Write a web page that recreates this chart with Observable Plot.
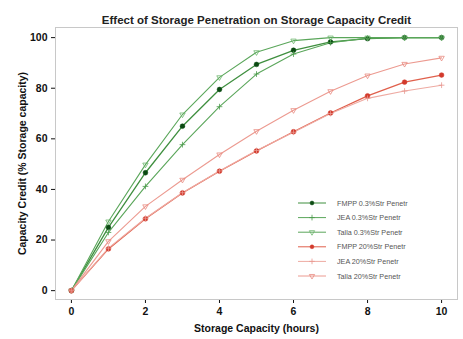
<!DOCTYPE html>
<html><head><meta charset="utf-8">
<script src="https://cdn.jsdelivr.net/npm/d3@7"></script>
<script src="https://cdn.jsdelivr.net/npm/@observablehq/plot@0.6"></script>
<style>body{margin:0;background:#fff;font-family:"Liberation Sans",Arial,sans-serif}</style>
</head><body><div id="chart"></div>
<script>
const hours = [0,1,2,3,4,5,6,7,8,9,10];
const seriesNames = ["FMPP 0.3%Str Penetr","JEA 0.3%Str Penetr","Talla 0.3%Str Penetr","FMPP 20%Str Penetr","JEA 20%Str Penetr","Talla 20%Str Penetr"];
const fmpp03 = [0,25,46.6,65,79.5,89.4,95,98.3,99.6,100,100];
const jea03 = [0,23,41.2,57.7,72.7,85.6,93.5,98,99.8,100,100];
const talla03 = [0,27.3,49.8,69.6,84.3,94.2,98.8,100,100,100,100];
const fmpp20 = [0,16.5,28.4,38.6,47.2,55.2,62.8,70.2,77,82.4,85.2];
const jea20 = [0,16.8,28.6,38.7,47.3,55.4,62.6,70,76,78.9,81.2];
const talla20 = [0,19.5,33.3,43.8,53.8,63,71.3,78.8,85,89.6,92];
const yTicks = [0,20,40,60,80,100];
const xTicks = [0,2,4,6,8,10];
const title = "Effect of Storage Penetration on Storage Capacity Credit";
const xLabel = "Storage Capacity (hours)";
const yLabel = "Capacity Credit (% Storage capacity)";

const styles = [
  {line:"#3f8f3f", mark:"#0b4a12", symbol:"circle", fill:true, rotate:0, sw:1.3},
  {line:"#5aa65a", mark:"#4a9a4a", symbol:"plus", fill:false, rotate:0, sw:1.1},
  {line:"#5aa65a", mark:"#6cb56c", symbol:"triangle", fill:false, rotate:180, sw:1.1},
  {line:"#e0604c", mark:"#d23a2c", symbol:"circle", fill:true, rotate:0, sw:1.3},
  {line:"#eeaaa2", mark:"#e89890", symbol:"plus", fill:false, rotate:0, sw:1.1},
  {line:"#ec9a90", mark:"#e88a80", symbol:"triangle", fill:false, rotate:180, sw:1.1}
];
const values = [fmpp03, jea03, talla03, fmpp20, jea20, talla20];
const data = values.map((vals,i)=>hours.map((h,j)=>({name:seriesNames[i], x:h, y:vals[j]})));

const marks = [Plot.frame({stroke:"#c8c8c8"})];
data.forEach((d,i)=>{
  const s = styles[i];
  marks.push(Plot.line(d,{x:"x",y:"y",stroke:s.line,strokeWidth:s.sw}));
});
data.forEach((d,i)=>{
  const s = styles[i];
  marks.push(Plot.dot(d,{x:"x",y:"y",symbol:()=>s.symbol,r:s.symbol==="circle"?2.4:2,
    fill:s.fill?s.mark:"none",stroke:s.mark,strokeWidth:s.fill?0.5:0.8,rotate:s.rotate}));
});
marks.push(Plot.text([title],{frameAnchor:"top",dy:-12,fontWeight:"bold",fontSize:11.5,fill:"#222",text:d=>d}));
marks.push(Plot.text([xLabel],{frameAnchor:"bottom",dy:32,fontWeight:"bold",fontSize:10.5,fill:"#111",text:d=>d}));
marks.push(Plot.text([yLabel],{frameAnchor:"left",textAnchor:"middle",dx:-33,rotate:-90,fontWeight:"bold",fontSize:10.5,fill:"#111",text:d=>d}));
// legend inside plot
marks.push((index, scales, vals, dims) => {
  const g = d3.create("svg:g").attr("font-family","Liberation Sans, Arial, sans-serif")
    .attr("font-weight","normal").attr("text-anchor","start");
  const x0 = dims.marginLeft + 243, y0 = dims.marginTop + 176, step = 14.6;
  seriesNames.forEach((n,i)=>{
    const s = styles[i], y = y0 + i*step;
    g.append("line").attr("x1",x0).attr("x2",x0+28).attr("y1",y).attr("y2",y).attr("stroke",s.line).attr("stroke-width",1);
    const sym = s.symbol==="circle"?d3.symbolCircle:s.symbol==="plus"?d3.symbolPlus:d3.symbolTriangle;
    g.append("path").attr("d",d3.symbol(sym, 12)()).attr("transform",`translate(${x0+14},${y}) rotate(${s.rotate})`)
      .attr("fill",s.fill?s.mark:"none").attr("stroke",s.mark).attr("stroke-width",s.fill?0.5:0.8);
    g.append("text").attr("x",x0+39).attr("y",y).attr("dy","0.35em").attr("font-size",7.2).attr("fill","#555").text(n);
  });
  return g.node();
});

const chart = Plot.plot({
  width:463, height:339,
  marginLeft:55, marginRight:6, marginTop:27, marginBottom:40,
  style:{fontFamily:"Liberation Sans, Arial, sans-serif", fontSize:"10.5px", fontWeight:"bold", color:"#111", background:"#fff"},
  x:{domain:[-0.43,10.43], ticks:xTicks, tickSize:4, tickPadding:4, label:null},
  y:{domain:[-3.5,104], ticks:yTicks, tickSize:4, tickPadding:4, label:null},
  marks
});
document.getElementById("chart").appendChild(chart);
</script></body></html>
